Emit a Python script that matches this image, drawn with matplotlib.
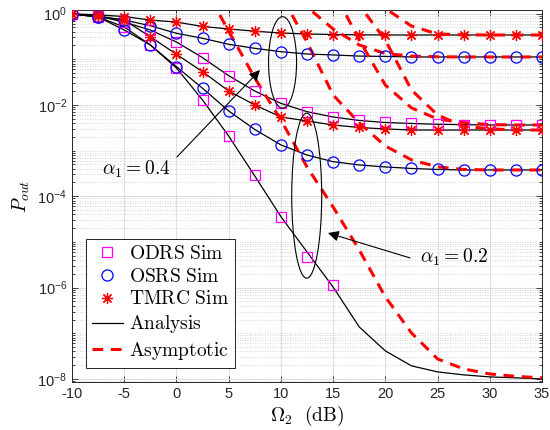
import numpy as np
import matplotlib
matplotlib.use('Agg')
import matplotlib.pyplot as plt
from matplotlib.patches import Ellipse
from matplotlib.lines import Line2D
from matplotlib.ticker import FixedLocator, NullFormatter, FixedFormatter

plt.rcParams['font.family'] = ['Liberation Sans', 'DejaVu Sans']
plt.rcParams['mathtext.fontset'] = 'cm'
plt.rcParams['axes.unicode_minus'] = False

# ---------------- data ----------------
omega_db = [-10, -7.5, -5, -2.5, 0, 2.5, 5, 7.5, 10, 12.5, 15, 17.5, 20, 22.5, 25, 27.5, 30, 32.5, 35]

# alpha1 = 0.4
tmrc_04 = [0.99, 0.93, 0.86, 0.72, 0.65, 0.52, 0.46, 0.41, 0.374, 0.356, 0.347, 0.342, 0.339, 0.339, 0.339, 0.339, 0.339, 0.339, 0.339]
osrs_04 = [0.98, 0.84, 0.72, 0.54, 0.369, 0.287, 0.212, 0.173, 0.146, 0.130, 0.124, 0.117, 0.115, 0.112, 0.112, 0.112, 0.112, 0.112, 0.112]
odrs_04 = [0.98, 0.88, 0.65, 0.436, 0.238, 0.108, 0.0436, 0.0201, 0.0108, 0.0071, 0.00543, 0.00456, 0.00412, 0.00392, 0.00376, 0.00369, 0.00363, 0.00363, 0.00363]

# alpha1 = 0.2
tmrc_02 = [0.98, 0.88, 0.72, 0.31, 0.128, 0.0532, 0.0201, 0.00995, 0.00543, 0.00445, 0.00363, 0.0032, 0.00297, 0.00282, 0.00282, 0.00282, 0.00282, 0.00282, 0.00282]
osrs_02 = [0.98, 0.84, 0.436, 0.205, 0.0686, 0.0231, 0.00736, 0.0029, 0.00133, 0.0008, 0.000571, 0.000484, 0.000438, 0.000406, 0.000386, 0.000376, 0.000376, 0.000376, 0.000376]
odrs_02 = [0.98, 0.84, 0.507, 0.205, 0.0641, 0.0128, 0.00208, 2.78e-4, 3.58e-5, 6.04e-6, 1.03e-6, 1.38e-7, 4.12e-8, 1.94e-8, 1.43e-8, 1.23e-8, 1.11e-8, 1.06e-8, 1.0e-8]

# simulated ODRS, alpha1 = 0.2 (only down to ~1e-6)
odrs_02_sim_db = [-10, -7.5, -5, -2.5, 0, 2.5, 5, 7.5, 10, 12.5, 15]
odrs_02_sim = [0.98, 0.84, 0.507, 0.205, 0.0641, 0.0128, 0.00208, 2.9e-4, 3.6e-5, 4.6e-6, 1.15e-6]

# asymptotic curves
asy_odrs_02_db = [2.5, 5, 7.5, 10, 12.5, 15, 17.5, 20, 22.5, 25, 27.5, 30, 32.5, 35]
asy_odrs_02 = [4.42, 0.414, 0.0388, 0.00468, 4.38e-4, 5.83e-5, 6.68e-6, 6.27e-7, 1.02e-7, 2.75e-8, 1.66e-8, 1.29e-8, 1.14e-8, 1.06e-8]
asy_tmrc_04_db = [17.5, 20, 22.5, 25, 27.5, 30, 32.5, 35]
asy_tmrc_04 = [5.4, 1.29, 0.532, 0.356, 0.342, 0.339, 0.339, 0.339]
asy_osrs_04_db = [10, 12.5, 15, 17.5, 20, 22.5, 25, 27.5, 30, 32.5, 35]
asy_osrs_04 = [5.4, 1.39, 0.458, 0.205, 0.133, 0.117, 0.113, 0.112, 0.112, 0.112, 0.112]
asy_odrs_04_db = [15, 17.5, 20, 22.5, 25, 27.5, 30, 32.5, 35]
asy_odrs_04 = [3.27, 0.263, 0.0272, 0.0086, 0.0049, 0.0041, 0.0037, 0.00363, 0.00363]
asy_tmrc_02_db = [15, 17.5, 20, 22.5, 25, 27.5, 30, 32.5, 35]
asy_tmrc_02 = [20.0, 1.53, 0.263, 0.0212, 0.006, 0.0034, 0.003, 0.00282, 0.00282]
asy_osrs_02_db = [10, 12.5, 15, 17.5, 20, 22.5, 25, 27.5, 30, 32.5, 35]
asy_osrs_02 = [2.54, 0.238, 0.0165, 0.00403, 0.00126, 6.26e-4, 4.4e-4, 3.86e-4, 3.76e-4, 3.76e-4, 3.76e-4]

x_ticks = [-10, -5, 0, 5, 10, 15, 20, 25, 30, 35]
y_ticks = [1e-8, 1e-6, 1e-4, 1e-2, 1e0]
y_ticklabels = [r'$\mathregular{10^{-8}}$', r'$\mathregular{10^{-6}}$', r'$\mathregular{10^{-4}}$',
                r'$\mathregular{10^{-2}}$', r'$\mathregular{10^{0}}$']

# ---------------- figure ----------------
fig = plt.figure(figsize=(5.5, 4.3), dpi=100)
ax = fig.add_axes([72/550, 1-382/430, 470/550, 372/430])
ax.set_yscale('log')

c_sq = '#FF00FF'
c_ci = '#0000FF'
c_st = '#FF0000'
ast = (8, 2, 0)

# analysis curves
for series in [tmrc_04, osrs_04, odrs_04, tmrc_02, osrs_02, odrs_02]:
    ax.plot(omega_db, series, color='black', lw=0.9, zorder=3)

# asymptotic curves
for xs, ys in [(asy_odrs_02_db, asy_odrs_02), (asy_tmrc_04_db, asy_tmrc_04),
               (asy_osrs_04_db, asy_osrs_04), (asy_odrs_04_db, asy_odrs_04),
               (asy_tmrc_02_db, asy_tmrc_02), (asy_osrs_02_db, asy_osrs_02)]:
    ax.plot(xs, ys, color=c_st, lw=2.2, ls=(0, (3.5, 2.5)), zorder=4)

# simulation markers
mk = dict(ls='none', mfc='none', zorder=5)
ax.plot(omega_db, odrs_04, marker='s', ms=6.5, mec=c_sq, mew=0.9, **mk)
ax.plot(odrs_02_sim_db, odrs_02_sim, marker='s', ms=6.5, mec=c_sq, mew=0.9, **mk)
ax.plot(omega_db, osrs_04, marker='o', ms=8, mec=c_ci, mew=0.9, **mk)
ax.plot(omega_db, osrs_02, marker='o', ms=8, mec=c_ci, mew=0.9, **mk)
ax.plot(omega_db, tmrc_04, marker=ast, ms=8, mec=c_st, mew=0.9, **mk)
ax.plot(omega_db, tmrc_02, marker=ast, ms=8, mec=c_st, mew=0.9, **mk)

# axes styling
ax.set_xlim(-10, 35)
ax.set_ylim(10**-8.066, 10**0.077)
ax.xaxis.set_major_locator(FixedLocator(x_ticks))
ax.yaxis.set_major_locator(FixedLocator(y_ticks))
ax.yaxis.set_major_formatter(FixedFormatter(y_ticklabels))
minor = []
for e in range(-9, 1):
    for m in range(1, 10):
        v = m * 10.0**e
        if v not in y_ticks:
            minor.append(v)
ax.yaxis.set_minor_locator(FixedLocator(minor))
ax.yaxis.set_minor_formatter(NullFormatter())
ax.tick_params(which='both', direction='in', top=True, right=True, colors='#262626',
               labelsize=10.5, width=0.6)
ax.tick_params(which='major', length=4)
ax.tick_params(which='minor', length=2)
ax.tick_params(axis='x', which='minor', bottom=False, top=False)
for s in ax.spines.values():
    s.set_color('#262626')
    s.set_linewidth(0.7)
ax.grid(True, which='major', color='#dedede', lw=0.8, zorder=0)
ax.grid(True, which='minor', axis='y', color='#c8c8c8', lw=0.6, ls=(0, (1, 2)), zorder=0)
ax.set_axisbelow(True)

ax.set_xlabel(r'$\Omega_2\ \ \mathrm{(dB)}$', fontsize=14, labelpad=2)
ax.set_ylabel(r'$P_{out}$', fontsize=14, labelpad=4)

# ellipses (in axes fraction)
ax.add_patch(Ellipse((0.448, 0.859), 0.0596, 0.246, transform=ax.transAxes,
                     fill=False, ec='black', lw=0.8, zorder=6))
ax.add_patch(Ellipse((0.4994, 0.5008), 0.0638, 0.4435, transform=ax.transAxes,
                     fill=False, ec='black', lw=0.8, zorder=6))

# annotations
ax.annotate('', xy=(8.0, 0.058), xytext=(0.05, 7.24e-4),
            arrowprops=dict(arrowstyle='-|>', color='black', lw=0.8, mutation_scale=16,
                            shrinkA=0, shrinkB=0), zorder=7)
ax.text(-3.8, 3.97e-4, r'$\alpha_1 = 0.4$', fontsize=14, ha='center', va='center', zorder=7)
ax.annotate('', xy=(14.51, 1.57e-5), xytext=(22.36, 4.47e-6),
            arrowprops=dict(arrowstyle='-|>', color='black', lw=0.8, mutation_scale=16,
                            shrinkA=0, shrinkB=0), zorder=7)
ax.text(23.3, 4.7e-6, r'$\alpha_1 = 0.2$', fontsize=14, ha='left', va='center', zorder=7)

# legend
handles = [
    Line2D([], [], ls='none', marker='s', ms=6.5, mfc='none', mec=c_sq, mew=0.9),
    Line2D([], [], ls='none', marker='o', ms=8, mfc='none', mec=c_ci, mew=0.9),
    Line2D([], [], ls='none', marker=ast, ms=8, mec=c_st, mew=0.9),
    Line2D([], [], color='black', lw=0.9),
    Line2D([], [], color=c_st, lw=2.2, ls=(0, (3.5, 2.5))),
]
labels = [r'$\mathrm{ODRS\ Sim}$', r'$\mathrm{OSRS\ Sim}$', r'$\mathrm{TMRC\ Sim}$',
          r'$\mathrm{Analysis}$', r'$\mathrm{Asymptotic}$']
leg = ax.legend(handles, labels, loc='lower left', bbox_to_anchor=(0.0298, 0.0376),
                borderaxespad=0, fontsize=14, fancybox=False, framealpha=1,
                edgecolor='black', handlelength=1.6, handletextpad=0.3,
                labelspacing=0.25, borderpad=0.3)
leg.get_frame().set_linewidth(0.6)
leg.set_zorder(8)

fig.savefig('out.png', dpi=100)
